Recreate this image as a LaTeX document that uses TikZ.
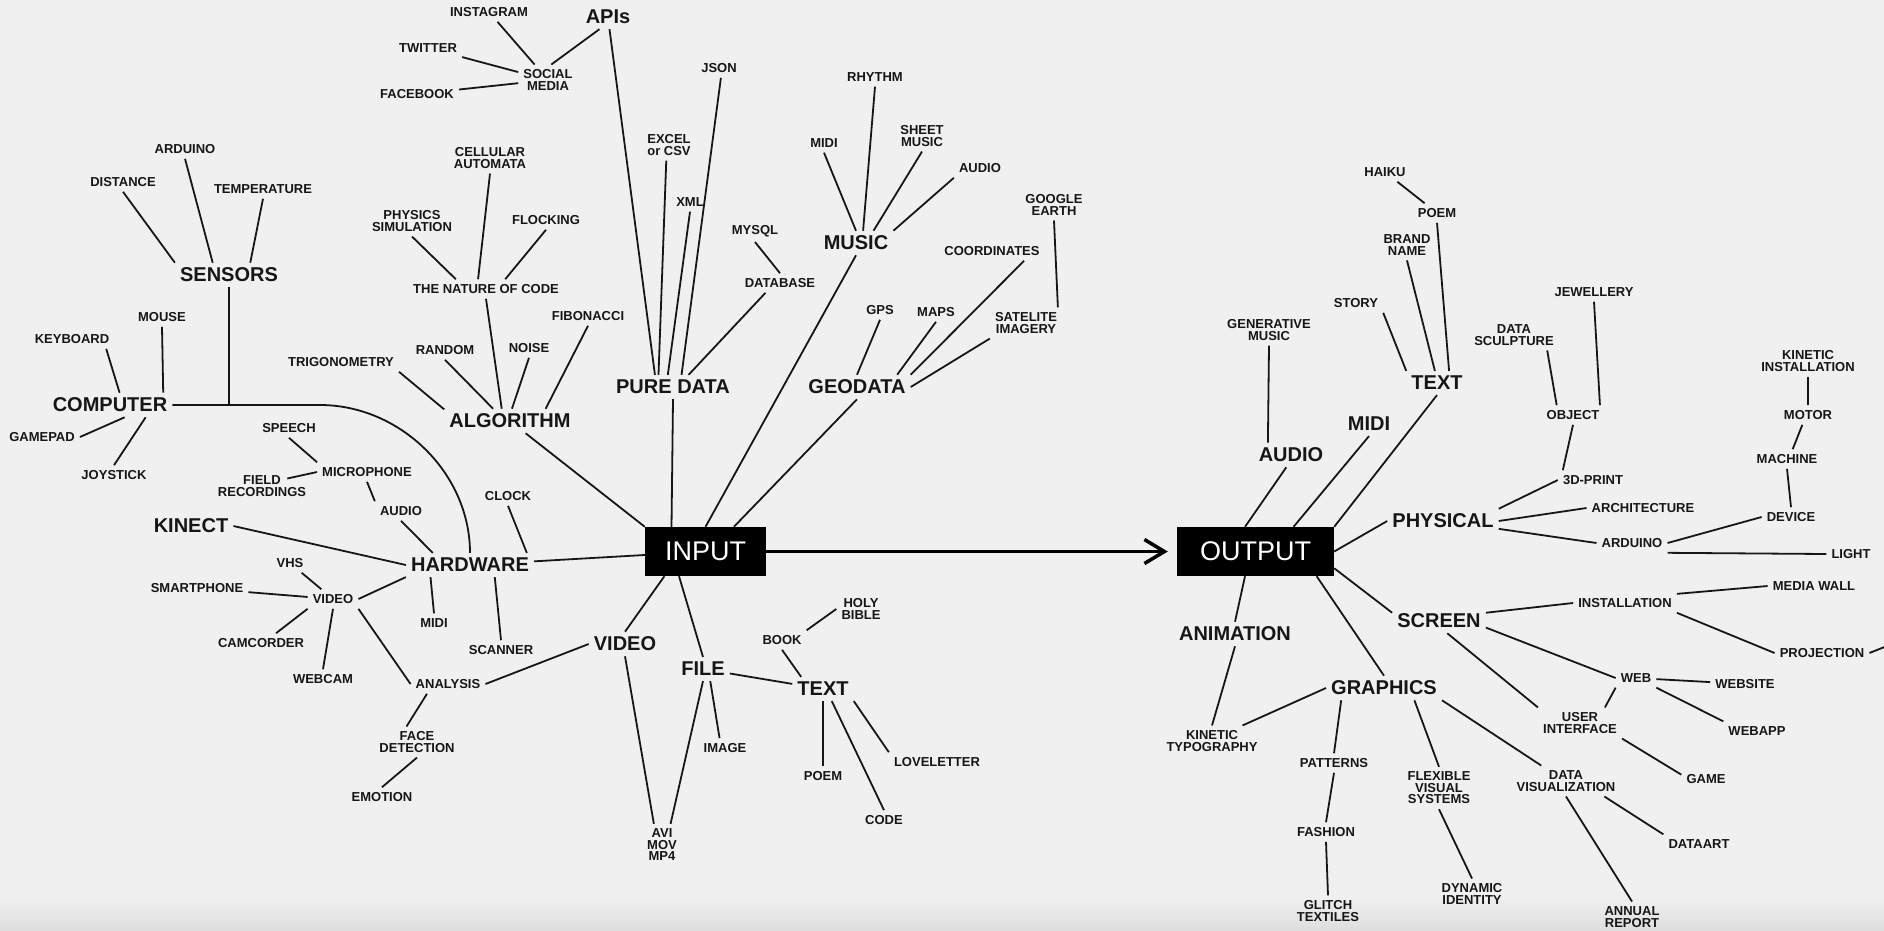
\documentclass[tikz,border=0pt]{standalone}
\usepackage{fontspec}
\setmainfont{Liberation Sans}
\usetikzlibrary{arrows.meta}
\definecolor{paper}{RGB}{240,240,240}
\definecolor{paperdark}{RGB}{222,222,222}
\definecolor{ink}{RGB}{22,22,22}

\begin{document}
\begin{tikzpicture}[x=1pt,y=-1pt,
    leaf/.style={text=ink,font=\bfseries\fontsize{13}{11.5}\selectfont,align=center,inner sep=5pt},
    hub/.style={text=ink,font=\bfseries\fontsize{20}{20}\selectfont,inner sep=5pt},
    core/.style={fill=black,text=white,font=\fontsize{27}{27}\selectfont,inner sep=0pt,minimum height=49pt},
    wire/.style={draw=ink,line width=1.8pt}]

\fill[paper] (0,0) rectangle (1884,930);
\shade[top color=paper,bottom color=paperdark] (0,896) rectangle (1884,930);
\useasboundingbox (0,0) rectangle (1884,930);

\begin{scope}[every node/.style={core}]
    \node[minimum width=121pt] (input) at (705.5,551.5) {INPUT};
    \node[minimum width=157pt] (output) at (1255.5,551.5) {OUTPUT};
\end{scope}

\begin{scope}[every node/.style={hub}]
    \node (apis) at (608,17) {APIs};
    \node (sensors) at (229,275) {SENSORS};
    \node (computer) at (110,405) {COMPUTER};
    \node (kinect) at (191,526) {KINECT};
    \node (hardware) at (470,565) {HARDWARE};
    \node (algorithm) at (510,421) {ALGORITHM};
    \node (pure_data) at (673,387) {PURE DATA};
    \node (music) at (856,243) {MUSIC};
    \node (geodata) at (857,387) {GEODATA};
    \node (video) at (625,644) {VIDEO};
    \node (file) at (703,669) {FILE};
    \node (text_file) at (823,689) {TEXT};
    \node (audio_out) at (1291,455) {AUDIO};
    \node (midi_out) at (1369,424) {MIDI};
    \node (text_out) at (1437,383) {TEXT};
    \node (physical) at (1443,521) {PHYSICAL};
    \node (screen) at (1439,621) {SCREEN};
    \node (graphics) at (1384,688) {GRAPHICS};
    \node (animation) at (1235,634) {ANIMATION};
\end{scope}

\begin{scope}[every node/.style={leaf}]
    % input side
    \node (instagram) at (489,12) {INSTAGRAM};
    \node (twitter) at (428,48) {TWITTER};
    \node (facebook) at (417,94) {FACEBOOK};
    \node (social_media) at (548,80) {SOCIAL\\MEDIA};
    \node (cellular_automata) at (490,158) {CELLULAR\\AUTOMATA};
    \node (physics_simulation) at (412,221) {PHYSICS\\SIMULATION};
    \node (flocking) at (546,220) {FLOCKING};
    \node (nature_of_code) at (486,289) {THE NATURE OF CODE};
    \node (fibonacci) at (588,316) {FIBONACCI};
    \node (noise) at (529,348) {NOISE};
    \node (random) at (445,350) {RANDOM};
    \node (trigonometry) at (341,362) {TRIGONOMETRY};
    \node (arduino_in) at (185,149) {ARDUINO};
    \node (distance) at (123,182) {DISTANCE};
    \node (temperature) at (263,189) {TEMPERATURE};
    \node (mouse) at (162,317) {MOUSE};
    \node (keyboard) at (72,339) {KEYBOARD};
    \node (gamepad) at (42,437) {GAMEPAD};
    \node (joystick) at (114,475) {JOYSTICK};
    \node (speech) at (289,428) {SPEECH};
    \node (microphone) at (367,472) {MICROPHONE};
    \node (field_recordings) at (262,486) {FIELD\\RECORDINGS};
    \node (audio_hw) at (401,511) {AUDIO};
    \node (clock) at (508,496) {CLOCK};
    \node (scanner) at (501,650) {SCANNER};
    \node (midi_hw) at (434,623) {MIDI};
    \node (video_hw) at (333,599) {VIDEO};
    \node (vhs) at (290,563) {VHS};
    \node (smartphone) at (197,588) {SMARTPHONE};
    \node (camcorder) at (261,643) {CAMCORDER};
    \node (webcam) at (323,679) {WEBCAM};
    \node (analysis) at (448,684) {ANALYSIS};
    \node (face_detection) at (417,742) {FACE\\DETECTION};
    \node (emotion) at (382,797) {EMOTION};
    \node (avi_mov_mp4) at (662,845) {AVI\\MOV\\MP4};
    \node (image) at (725,748) {IMAGE};
    \node (book) at (782,640) {BOOK};
    \node (holy_bible) at (861,609) {HOLY\\BIBLE};
    \node (poem_file) at (823,776) {POEM};
    \node (code) at (884,820) {CODE};
    \node (loveletter) at (937,762) {LOVELETTER};
    \node (json) at (719,68) {JSON};
    \node (excel_csv) at (669,145) {EXCEL\\or CSV};
    \node (xml) at (690,202) {XML};
    \node (mysql) at (755,231) {MYSQL};
    \node (database) at (780,283) {DATABASE};
    \node (rhythm) at (875,77) {RHYTHM};
    \node (midi_music) at (824,143) {MIDI};
    \node (sheet_music) at (922,136) {SHEET\\MUSIC};
    \node (audio_music) at (980,168) {AUDIO};
    \node (gps) at (880,310) {GPS};
    \node (maps) at (936,312) {MAPS};
    \node (coordinates) at (992,251) {COORDINATES};
    \node (google_earth) at (1054,205) {GOOGLE\\EARTH};
    \node (satelite_imagery) at (1026,323) {SATELITE\\IMAGERY};
    % output side
    \node (generative_music) at (1269,330) {GENERATIVE\\MUSIC};
    \node (story) at (1356,303) {STORY};
    \node (brand_name) at (1407,245) {BRAND\\NAME};
    \node (haiku) at (1385,172) {HAIKU};
    \node (poem_out) at (1437,213) {POEM};
    \node (jewellery) at (1594,292) {JEWELLERY};
    \node (data_sculpture) at (1514,335) {DATA\\SCULPTURE};
    \node (object) at (1573,415) {OBJECT};
    \node (print_3d) at (1593,480) {3D-PRINT};
    \node (architecture) at (1643,508) {ARCHITECTURE};
    \node (arduino_out) at (1632,543) {ARDUINO};
    \node (device) at (1791,517) {DEVICE};
    \node (light) at (1851,554) {LIGHT};
    \node (machine) at (1787,459) {MACHINE};
    \node (motor) at (1808,415) {MOTOR};
    \node (kinetic_installation) at (1808,361) {KINETIC\\INSTALLATION};
    \node (installation) at (1625,603) {INSTALLATION};
    \node (media_wall) at (1814,586) {MEDIA WALL};
    \node (projection) at (1822,653) {PROJECTION};
    \node (web) at (1636,678) {WEB};
    \node (website) at (1745,684) {WEBSITE};
    \node (webapp) at (1757,731) {WEBAPP};
    \node (user_interface) at (1580,723) {USER\\INTERFACE};
    \node (game) at (1706,779) {GAME};
    \node (kinetic_typography) at (1212,741) {KINETIC\\TYPOGRAPHY};
    \node (patterns) at (1334,763) {PATTERNS};
    \node (fashion) at (1326,832) {FASHION};
    \node (glitch_textiles) at (1328,911) {GLITCH\\TEXTILES};
    \node (flexible_systems) at (1439,788) {FLEXIBLE\\VISUAL\\SYSTEMS};
    \node (dynamic_identity) at (1472,894) {DYNAMIC\\IDENTITY};
    \node (data_visualization) at (1566,781) {DATA\\VISUALIZATION};
    \node (annual_report) at (1632,917) {ANNUAL\\REPORT};
    \node (dataart) at (1699,844) {DATAART};
\end{scope}

\coordinate (junc) at (229,405);
\coordinate (offstage) at (1892,644);

\begin{scope}[every edge/.style={wire}]
    % apis, pure data
    \path (instagram) edge (social_media);
    \path (twitter) edge (social_media);
    \path (facebook) edge (social_media);
    \path (apis.235) edge (social_media.78);
    \path (apis.277) edge (pure_data.146);
    \path (json.281) edge (pure_data.55);
    \path (excel_csv.260) edge (pure_data.140);
    \path (xml.270) edge (pure_data.113);
    \path (database.214) edge (pure_data.38);
    \path (mysql.south) edge (database.north);

    % into input
    \path (pure_data.south) edge (input.144);
    \path (algorithm) edge (input.north west);
    \path (hardware) edge (input);
    \path (video.north) edge (input.211);
    \path (file.north) edge (input.223);
    \path (music.south) edge (input.north);
    \path (geodata.south) edge (input.41);

    % algorithm
    \path (nature_of_code.south) edge (algorithm.124);
    \path (physics_simulation.south) edge (nature_of_code.162);
    \path (cellular_automata.south) edge (nature_of_code.129);
    \path (flocking.south) edge (nature_of_code.27);
    \path (fibonacci.south) edge (algorithm.19);
    \path (noise.south) edge (algorithm.81);
    \path (random.south) edge (algorithm.144);
    \path (trigonometry.south east) edge (algorithm.170);

    % sensors, computer
    \path (distance.south) edge (sensors.north west);
    \path (arduino_in.south) edge (sensors.143);
    \path (temperature.south) edge (sensors.30);
    \path (sensors.south) edge (junc);
    \path (mouse.south) edge (computer.13);
    \path (keyboard.344) edge (computer.52);
    \path (gamepad.east) edge (computer.320);
    \path (joystick.north) edge (computer.341);
    \draw[wire] (computer) -- (junc) -- ++(91,0) .. controls +(80,0) and +(0,-80) .. (hardware.north);

    % hardware
    \path (speech.south) edge (microphone.north west);
    \path ([xshift=-24pt,yshift=-8pt]field_recordings.north east) edge (microphone.west);
    \path (microphone.south) edge (audio_hw.north west);
    \path (audio_hw.south) edge (hardware.162);
    \path (kinect.east) edge (hardware.west);
    \path (clock.south) edge (hardware.12);
    \path (hardware.334) edge (scanner.north);
    \path (hardware.197) edge (midi_hw.north);
    \path (hardware.south west) edge (video_hw.east);
    \path (vhs) edge (video_hw);
    \path (smartphone) edge (video_hw);
    \path (video_hw.south west) edge (camcorder.33);
    \path (video_hw.south) edge (webcam.north);
    \path (video_hw.south east) edge (analysis.west);
    \path (analysis.205) edge (face_detection.124);
    \path (face_detection.south) edge (emotion.north);
    \path (analysis.east) edge (video.west);

    % video, file, text
    \path (video.south) edge (avi_mov_mp4.111);
    \path (file.south) edge (avi_mov_mp4.68);
    \path (file.301) edge (image.119);
    \path (file) edge (text_file);
    \path (book.south) edge (text_file.151);
    \path (book.north east) edge (holy_bible.west);
    \path (text_file.south) edge (poem_file.north);
    \path (text_file.306) edge (code.north);
    \path (text_file.south east) edge (loveletter.north west);

    % music, geodata
    \path (rhythm.south) edge (music.60);
    \path (midi_music.south) edge (music.north);
    \path (sheet_music.south) edge (music.35);
    \path (audio_music.south west) edge (music.north east);
    \path (gps.south) edge (geodata.north);
    \path (maps.south) edge (geodata.17);
    \path (coordinates.343) edge (geodata.north east);
    \path (google_earth.south) edge (satelite_imagery.26);
    \path (satelite_imagery.south west) edge (geodata.east);

    % output: audio, midi, text
    \path (generative_music.south) edge (audio_out.152);
    \path (audio_out.249) edge (output.113);
    \path (midi_out.south) edge (output.33);
    \path (text_out.south) edge (output.north east);
    \path (story.south east) edge (text_out.north west);
    \path (brand_name.south) edge (text_out.100);
    \path (haiku) edge (poem_out);
    \path (poem_out.south) edge (text_out.45);

    % physical
    \path (physical.west) edge (output.east);
    \path (jewellery.south) edge (object.20);
    \path (data_sculpture.335) edge (object.149);
    \path (object.south) edge (print_3d.162);
    \path (print_3d.west) edge (physical.north east);
    \path (physical.east) edge (architecture.west);
    \path (physical.352) edge (arduino_out.west);
    \path (arduino_out.east) edge (device.west);
    \path (arduino_out.south east) edge (light.west);
    \path (device.north) edge (machine.south);
    \path (machine.60) edge (motor.240);
    \path (motor.north) edge (kinetic_installation.south);

    % screen
    \path (output.348) edge (screen.170);
    \path (screen.10) edge (installation.west);
    \path (installation.10) edge (media_wall.west);
    \path (installation.south east) edge (projection.west);
    \path (projection.east) edge (offstage);
    \path (screen.352) edge (web.west);
    \path (web) edge (website);
    \path (web.south east) edge (webapp.north west);
    \path (web.south west) edge (user_interface.32);
    \path (screen.304) edge (user_interface.north west);
    \path (user_interface.south east) edge (game.170);

    % animation, graphics
    \path (output.247) edge (animation.north);
    \path (animation.south) edge (kinetic_typography.north);
    \path (output.338) edge (graphics.north);
    \path (graphics.west) edge (kinetic_typography.27);
    \path (graphics.196) edge (patterns.north);
    \path (patterns.south) edge (fashion.north);
    \path (fashion.south) edge (glitch_textiles.north);
    \path (graphics.338) edge (flexible_systems.north);
    \path (flexible_systems.south) edge (dynamic_identity.north);
    \path (graphics.south east) edge (data_visualization.148);
    \path (data_visualization.south) edge (annual_report.north);
    \path (data_visualization.338) edge (dataart.north west);
\end{scope}

\draw[black,line width=3.5pt,-{Straight Barb[length=20pt,width=24pt]},shorten >=9pt] (input) -- (output);
\end{tikzpicture}
\end{document}
